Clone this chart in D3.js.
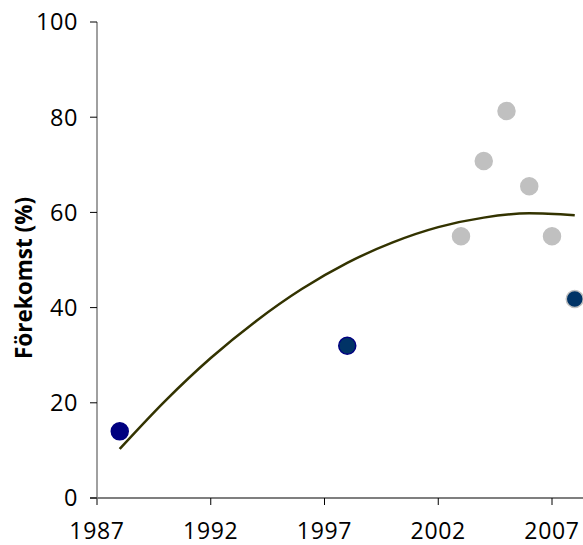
<!DOCTYPE html>
<html>
<head>
<meta charset="utf-8">
<script src="https://cdn.jsdelivr.net/npm/d3@7"></script>
<style>
  html, body { margin: 0; padding: 0; background: #fff; overflow: hidden; }
  svg { display: block; }
  text { font-family: "Open Sans", "Noto Sans", sans-serif; }
</style>
</head>
<body>
<svg id="chart" width="583" height="545"></svg>
<script>
// Observations
const years = [1988, 1998, 2003, 2004, 2005, 2006, 2007, 2008];
const values = [14, 32, 55, 70.8, 81.3, 65.5, 55, 41.8];
const fills = ["#000080", "#003366", "#c0c0c0", "#c0c0c0", "#c0c0c0", "#c0c0c0", "#c0c0c0", "#003366"];
const strokes = ["#000080", "#000080", "#c0c0c0", "#c0c0c0", "#c0c0c0", "#c0c0c0", "#c0c0c0", "#c0c0c0"];
// Trend line
const trendYears = [1988, 1990, 1992, 1994, 1996, 1998, 2000, 2002, 2004, 2006, 2008];
const trendValues = [10.3, 20.4, 29.4, 37.2, 43.9, 49.4, 53.7, 56.9, 58.9, 59.8, 59.4];
// Ticks
const xTicks = [1987, 1992, 1997, 2002, 2007];
const yTicks = [0, 20, 40, 60, 80, 100];
const yLabel = "Förekomst (%)";

const svg = d3.select("#chart");
const x = d3.scaleLinear().domain([1987, 2007]).range([97, 552]);
const y = d3.scaleLinear().domain([0, 100]).range([498, 22]);

// X axis
const xAxis = svg.append("g").attr("transform", "translate(0,498)");
xAxis.append("line").attr("x1", 90).attr("x2", 583).attr("y1", 0).attr("y2", 0)
  .attr("stroke", "#000").attr("stroke-width", 1.2);
xAxis.selectAll("line.tick").data(xTicks).join("line").attr("class", "tick")
  .attr("x1", d => x(d)).attr("x2", d => x(d)).attr("y1", 0).attr("y2", 7)
  .attr("stroke", "#000").attr("stroke-width", 1);
xAxis.selectAll("text").data(xTicks).join("text")
  .attr("x", d => x(d)).attr("y", 40.5).attr("text-anchor", "middle")
  .attr("font-size", 23).attr("letter-spacing", 0.7).attr("fill", "#000").text(d => d);

// Y axis
const yAxis = svg.append("g");
yAxis.append("line").attr("x1", 97).attr("x2", 97).attr("y1", y(100)).attr("y2", 505)
  .attr("stroke", "#808080").attr("stroke-width", 1.5);
yAxis.selectAll("line.tick").data(yTicks).join("line").attr("class", "tick")
  .attr("x1", 90).attr("x2", 97).attr("y1", d => y(d)).attr("y2", d => y(d))
  .attr("stroke", "#000").attr("stroke-width", 1);
yAxis.selectAll("text").data(yTicks).join("text")
  .attr("x", 78).attr("y", d => y(d)).attr("dy", "0.36em").attr("text-anchor", "end")
  .attr("font-size", 23.5).attr("letter-spacing", 0.6).attr("fill", "#000").text(d => d);

svg.append("text").attr("transform", "translate(32,278) rotate(-90)")
  .attr("text-anchor", "middle").attr("font-size", 22.5).attr("font-weight", "bold")
  .attr("fill", "#000").text(yLabel);

// Trend line
const line = d3.line().x(d => x(d[0])).y(d => y(d[1])).curve(d3.curveMonotoneX);
svg.append("path").datum(trendYears.map((t, i) => [t, trendValues[i]]))
  .attr("d", line).attr("fill", "none").attr("stroke", "#333300").attr("stroke-width", 2.5);

// Points
svg.selectAll("circle.pt").data(years.map((t, i) => i)).join("circle").attr("class", "pt")
  .attr("cx", i => x(years[i])).attr("cy", i => y(values[i])).attr("r", 8.5)
  .attr("fill", i => fills[i]).attr("stroke", i => strokes[i]).attr("stroke-width", 1.5);
</script>
</body>
</html>
